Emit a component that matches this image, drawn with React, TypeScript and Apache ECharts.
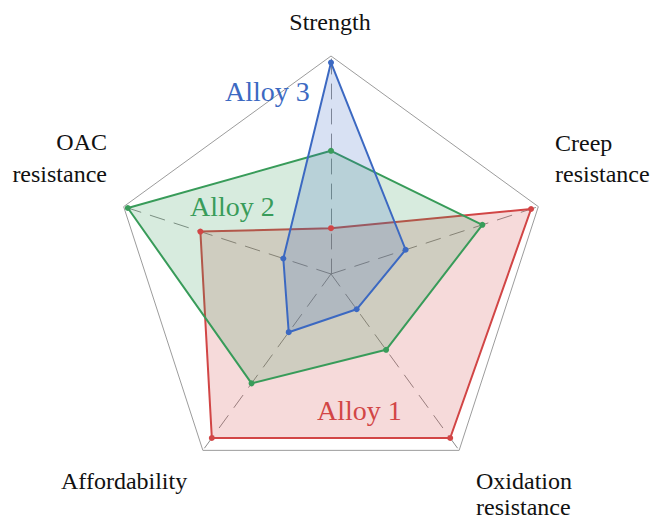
import React, { useEffect, useRef } from "react";
import * as echarts from "echarts";

// Indicators, ECharts lays them out counter-clockwise starting at the top
const indicatorNames = ["Strength", "OAC resistance", "Affordability", "Oxidation resistance", "Creep resistance"];
const indicatorMax = [1, 1, 1, 1, 1];

const seriesNames = ["Alloy 1", "Alloy 2", "Alloy 3"];
const alloy1 = [0.21, 0.63, 0.93, 0.93, 0.965];
const alloy2 = [0.565, 0.98, 0.62, 0.43, 0.73];
const alloy3 = [0.97, 0.23, 0.33, 0.2, 0.36];
const seriesValues = [alloy1, alloy2, alloy3];

const seriesColors = ["#d24646", "#399c5a", "#3c69c2"];

const FAMILY = "Liberation Serif";

function txt(text: string, x: number, y: number, align: string, size: number, color: string) {
  return {
    type: "text",
    x,
    y,
    z: 100,
    silent: true,
    style: {
      text,
      fontSize: size,
      fontFamily: FAMILY,
      fill: color,
      textAlign: align,
      textVerticalAlign: "middle",
    },
  };
}

export default function App() {
  const ref = useRef<HTMLDivElement>(null);

  useEffect(() => {
    if (!ref.current) return;
    const chart = echarts.init(ref.current, undefined, { renderer: "svg" });

    const option: any = {
      animation: false,
      backgroundColor: "#ffffff",
      textStyle: { fontFamily: FAMILY },
      radar: {
        center: [331, 274],
        radius: 218,
        startAngle: 90,
        shape: "polygon",
        splitNumber: 1,
        indicator: indicatorNames.map((name, i) => ({ name, min: 0, max: indicatorMax[i] })),
        axisName: { show: false },
        axisLine: { show: true, lineStyle: { color: "#8c8c8c", width: 1, type: [15, 10] } },
        splitLine: { show: true, lineStyle: { color: "#9c9c9c", width: 1 } },
        splitArea: { show: false },
        axisTick: { show: false },
        axisLabel: { show: false },
      },
      series: [
        {
          type: "radar",
          symbol: "circle",
          symbolSize: 6,
          data: seriesValues.map((vals, i) => ({
            name: seriesNames[i],
            value: vals,
            itemStyle: { color: seriesColors[i] },
            lineStyle: { color: seriesColors[i], width: 2 },
            areaStyle: { color: seriesColors[i], opacity: 0.2 },
          })),
        },
      ],
      graphic: [
        txt(indicatorNames[0], 330, 22, "center", 24, "#111"),
        txt("Creep", 555, 143, "left", 24, "#111"),
        txt("resistance", 555, 174, "left", 24, "#111"),
        txt("OAC", 107, 142, "right", 24, "#111"),
        txt("resistance", 107, 174, "right", 24, "#111"),
        txt(indicatorNames[2], 61, 481, "left", 24, "#111"),
        txt("Oxidation", 476, 481, "left", 24, "#111"),
        txt("resistance", 476, 507, "left", 24, "#111"),
        txt(seriesNames[2], 225, 91, "left", 28, seriesColors[2]),
        txt(seriesNames[1], 190, 206, "left", 28, seriesColors[1]),
        txt(seriesNames[0], 317, 410, "left", 28, seriesColors[0]),
      ],
    };

    chart.setOption(option);
    return () => chart.dispose();
  }, []);

  return (
    <div
      ref={ref}
      style={{ position: "absolute", left: 0, top: 0, width: 652, height: 521 }}
    />
  );
}
